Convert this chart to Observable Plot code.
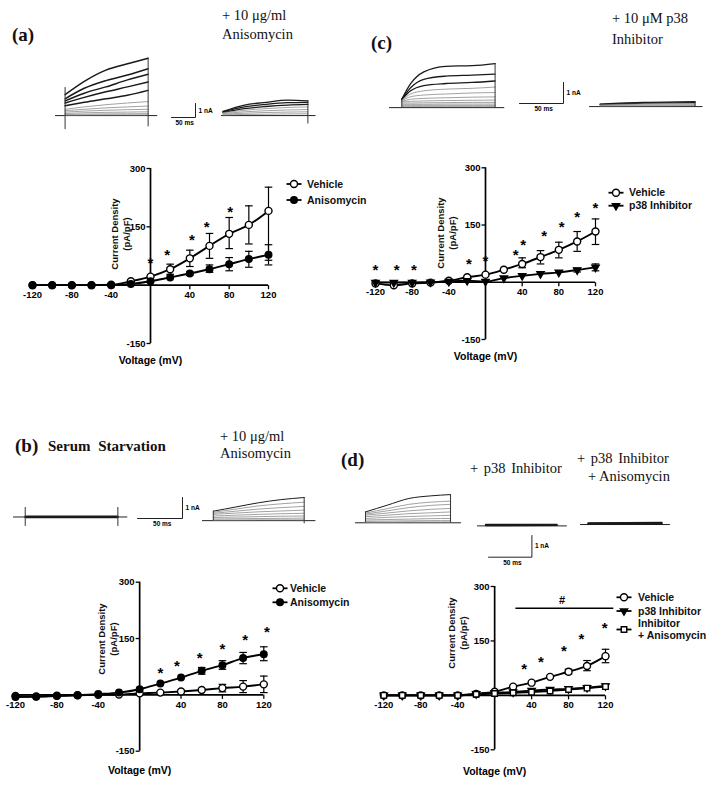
<!DOCTYPE html>
<html><head><meta charset="utf-8">
<script src="https://cdn.jsdelivr.net/npm/d3@7"></script>
<script src="https://cdn.jsdelivr.net/npm/@observablehq/plot@0.6"></script>
<style>
body{margin:0;background:#fff;}
#fig{position:relative;width:713px;height:787px;overflow:hidden;background:#fff;}
#fig > svg{position:absolute;}
</style></head><body><div id="fig"></div>
<script>
// ================= I-V DATA =================
const VOLTAGES = [-120,-100,-80,-60,-40,-20,0,20,40,60,80,100,120];
const X_TICKS = [-120,-80,-40,40,80,120];
const Y_TICKS = [-150,150,300];
const Y_DOMAIN = [-150,300];
const X_LABEL = "Voltage (mV)";
const Y_LABEL = ["Current Density","(pA/pF)"];

// (a)
const A_VEHICLE = [0,0,0,0,1,10,22,41,69,101,132,155,191];
const A_VEHICLE_ERR_V = [20,40,60,80,100,120];
const A_VEHICLE_LO = [28,48,69,94,106,64];
const A_VEHICLE_HI = [54,90,133,174,204,252];
const A_ANISO = [0,0,0,0,0,3,10,20,30,41,54,67,78];
const A_ANISO_ERR_V = [40,60,80,100,120];
const A_ANISO_LO = [26,33,37,46,52];
const A_ANISO_HI = [34,52,71,87,104];
const A_STAR_V = [0,17,42,57,81];
const A_STAR_Y = [67,88,125,160,198];
const A_NAMES = ["Vehicle","Anisomycin"];

// (c)
const C_VEHICLE = [-3,-8,-3,-1,4,13,20,33,48,66,85,107,133];
const C_VEHICLE_ERR_V = [40,60,80,100,120];
const C_VEHICLE_LO = [38,48,64,81,99];
const C_VEHICLE_HI = [64,83,105,133,166];
const C_P38 = [-1,-1,-1,0,2,4,2,11,17,22,26,32,39];
const C_P38_ERR_V = [100,120];
const C_P38_LO = [27,30];
const C_P38_HI = [37,48];
const C_STAR_V = [-120,-97,-78,-18,0,33,41,64,83,100,120];
const C_STAR_Y = [41,41,41,59,66,81,108,131,155,181,205];
const C_NAMES = ["Vehicle","p38 Inhibitor"];

// (b)
const B_VEHICLE = [-3,-4,-2,-1,0,1,4,6,9,13,18,22,28];
const B_VEHICLE_ERR_V = [80,100,120];
const B_VEHICLE_LO = [8,6,6];
const B_VEHICLE_HI = [28,38,50];
const B_ANISO = [-6,-5,-3,-1,2,6,15,30,46,64,79,98,108];
const B_ANISO_ERR_V = [60,80,100,120];
const B_ANISO_LO = [55,68,83,91];
const B_ANISO_HI = [73,91,113,128];
const B_STAR_V = [20,36,58,80,102,123];
const B_STAR_Y = [68,86,108,132,155,178];
const B_NAMES = ["Vehicle","Anisomycin"];

// (d)
const D_VEHICLE = [0,0,0,0,0,4,10,24,35,51,65,81,108];
const D_VEHICLE_ERR_V = [80,100,120];
const D_VEHICLE_LO = [59,68,90];
const D_VEHICLE_HI = [72,96,127];
const D_P38 = [0,0,0,0,0,4,7,9,13,16,18,21,26];
const D_INH_ANISO = [0,0,0,0,0,3,5,7,9,12,16,20,24];
const D_STAR_V = [32,50,75,94,119];
const D_STAR_Y = [83,102,134,165,196];
const D_HASH_X = [23,129];
const D_HASH_Y = [240];
const D_HASH_LABEL_XY = [73,262];
const D_NAMES = ["Vehicle","p38 Inhibitor","Inhibitor\n+ Anisomycin"];

// ================= CURRENT TRACES (ms, nA) =================
const SCALE_MS = 50, SCALE_NA = 1;

const A_TR_VEH_T = [0,40,85,130,173];
const A_TR_VEH = [
 [1.50,2.45,3.25,3.70,4.10],[1.20,1.95,2.50,2.90,3.35],[1.05,1.60,2.05,2.55,2.95],
 [0.90,1.30,1.70,2.05,2.40],[0.70,0.95,1.20,1.45,1.80],[0.45,0.62,0.78,0.90,1.00],
 [0.35,0.45,0.55,0.62,0.68],[0.25,0.32,0.38,0.42,0.45],[0.15,0.20,0.23,0.25,0.27],
 [0.08,0.10,0.12,0.13,0.14],[0.03,0.04,0.05,0.05,0.05]];
const A_TR_VEH_BASE = [-20,193];
const A_TR_VEH_EDGES = [[0,-1.0,2.0],[173,-0.8,4.1]];

const A_TR_ANI_T = [0,45,90,135,177];
const A_TR_ANI = [
 [0.30,0.75,0.95,1.10,1.05],[0.27,0.62,0.80,0.92,0.95],[0.23,0.50,0.65,0.75,0.80],
 [0.20,0.38,0.50,0.58,0.62],[0.15,0.27,0.35,0.40,0.43],[0.10,0.17,0.22,0.25,0.27],
 [0.05,0.08,0.10,0.12,0.13]];
const A_TR_ANI_BASE = [-3,194];
const A_TR_ANI_EDGES = [[177,-0.6,1.05]];

const C_TR_VEH_T = [0,10,25,50,80,106];
const C_TR_VEH = [
 [0.40,1.14,1.70,1.97,2.00,2.10],[0.40,0.95,1.35,1.50,1.55,1.60],[0.38,0.80,1.05,1.15,1.20,1.27],
 [0.35,0.65,0.80,0.88,0.92,0.98],[0.33,0.52,0.60,0.65,0.70,0.72],[0.30,0.40,0.44,0.47,0.50,0.51],
 [0.27,0.30,0.32,0.34,0.35,0.36],[0.22,0.22,0.23,0.24,0.25,0.25],[0.16,0.16,0.16,0.17,0.17,0.17],
 [0.11,0.11,0.11,0.11,0.11,0.11],[0.06,0.06,0.06,0.06,0.06,0.06]];
const C_TR_VEH_BASE = [-14,117];
const C_TR_VEH_EDGES = [[0,0,0.40],[106,0,2.10]];

const C_TR_INH_T = [0,50,108];
const C_TR_INH = [[0.12,0.20,0.24],[0.10,0.16,0.19],[0.08,0.12,0.14],[0.05,0.08,0.09],[0.03,0.04,0.05]];
const C_TR_INH_BASE = [-12,117];
const C_TR_INH_EDGES = [[108,0,0.24]];

const B_TR_VEH_T = [0,103];
const B_TR_VEH = [[0.03,0.03],[-0.02,-0.02]];
const B_TR_VEH_BASE = [-13,114];
const B_TR_VEH_EDGES = [[0,-0.45,0.45],[103,-0.45,0.45]];

const B_TR_ANI_T = [0,25,50,75,101];
const B_TR_ANI = [
 [0.45,0.65,0.85,1.00,1.10],[0.40,0.55,0.70,0.80,0.88],[0.35,0.45,0.55,0.62,0.68],
 [0.30,0.36,0.42,0.46,0.50],[0.22,0.26,0.30,0.33,0.35],[0.15,0.17,0.19,0.21,0.22],
 [0.08,0.09,0.10,0.11,0.12],[0.03,0.03,0.04,0.04,0.04]];
const B_TR_ANI_BASE = [-12,114];
const B_TR_ANI_EDGES = [[0,0,0.45],[101,-0.15,1.10]];

const D_TR_VEH_T = [0,25,50,75,98];
const D_TR_VEH = [
 [0.50,0.81,1.12,1.24,1.30],[0.45,0.65,0.85,0.95,1.00],[0.40,0.55,0.70,0.80,0.85],
 [0.35,0.45,0.55,0.62,0.66],[0.28,0.35,0.42,0.46,0.50],[0.20,0.25,0.29,0.32,0.34],
 [0.13,0.15,0.17,0.19,0.20],[0.07,0.08,0.09,0.10,0.10],[0.03,0.03,0.04,0.04,0.04]];
const D_TR_VEH_BASE = [-11.5,110.6];
const D_TR_VEH_EDGES = [[0,0,0.50],[98,0,1.30]];

const D_TR_INH_T = [0,82];
const D_TR_INH = [[0.06,0.06],[0.04,0.05],[0.02,0.03]];
const D_TR_INH_BASE = [-9.4,94];

const D_TR_BOTH_T = [0,85];
const D_TR_BOTH = [[0.07,0.09],[0.05,0.06],[0.02,0.03]];
const D_TR_BOTH_BASE = [-8.8,94.8];

// ================= STYLE / LAYOUT =================
const SERIF = "'Liberation Serif','Times New Roman',serif";
const SANS_N = "'Liberation Sans Narrow','Arial Narrow','Liberation Sans',Arial,sans-serif";
const SANS = "'Liberation Sans',Arial,sans-serif";
const fig = document.getElementById("fig");

const triangleDown = {draw(c, size){
  const s = Math.sqrt(size*4/Math.sqrt(3)), h = s*Math.sqrt(3)/2;
  c.moveTo(0, 2*h/3); c.lineTo(-s/2, -h/3); c.lineTo(s/2, -h/3); c.closePath();
}};
const tickDown = {draw(c){c.moveTo(0,0); c.lineTo(0,4);}};
const tickLeft = {draw(c){c.moveTo(0,0); c.lineTo(-4,0);}};
const capSym = {draw(c){c.moveTo(-3.8,0); c.lineTo(3.8,0);}};

const MARKERS = {
  open: {symbol:"circle", fill:"white", r: 3.5},
  filled: {symbol:"circle", fill:"black", r: 3.3},
  tri: {symbol: triangleDown, fill:"black", r: 2.7},
  square: {symbol:"square", fill:"white", r: 3.1}
};

function place(svg, left, top){
  svg.style.left = left + "px"; svg.style.top = top + "px";
  fig.appendChild(svg);
}

function ivPlot(p){
  const marks = [];
  marks.push(Plot.ruleY([0], {x1: d3.min(X_TICKS), x2: d3.max(X_TICKS), strokeWidth: 1.7}));
  marks.push(Plot.ruleX([0], {y1: d3.min(Y_TICKS), y2: d3.max(Y_TICKS), strokeWidth: 1.7}));
  marks.push(Plot.dot(X_TICKS, {x: d=>d, y: 0, symbol: tickDown, stroke:"black", fill:"none", strokeWidth: 1.3}));
  marks.push(Plot.dot(Y_TICKS, {x: 0, y: d=>d, symbol: tickLeft, stroke:"black", fill:"none", strokeWidth: 1.3}));
  marks.push(Plot.text(X_TICKS, {x: d=>d, y: 0, text: d=>String(d), dy: 10, fontSize: 9.5, fontWeight:"bold", fontFamily: SANS_N}));
  marks.push(Plot.text(Y_TICKS, {x: 0, y: d=>d, text: d=>String(d), dx: -5, textAnchor:"end", fontSize: 9.5, fontWeight:"bold", fontFamily: SANS_N}));
  for (const s of p.series){
    const rows = VOLTAGES.map((v,i)=>({v, y: s.values[i]}));
    if (s.errV){
      const er = s.errV.map((v,i)=>({v, lo: s.lo[i], hi: s.hi[i]}));
      marks.push(Plot.ruleX(er, {x:"v", y1:"lo", y2:"hi", strokeWidth: 1.2}));
      marks.push(Plot.dot(er, {x:"v", y:"lo", symbol: capSym, stroke:"black", fill:"none", strokeWidth:1.2}));
      marks.push(Plot.dot(er, {x:"v", y:"hi", symbol: capSym, stroke:"black", fill:"none", strokeWidth:1.2}));
    }
    marks.push(Plot.line(rows, {x:"v", y:"y", curve:"monotone-x", stroke:"black", strokeWidth: 1.9}));
  }
  for (const s of p.series){
    const rows = VOLTAGES.map((v,i)=>({v, y: s.values[i]}));
    const m = MARKERS[s.marker];
    marks.push(Plot.dot(rows, {x:"v", y:"y", symbol: m.symbol, fill: m.fill, stroke:"black", strokeWidth: 1.4, r: m.r}));
  }
  const stars = p.starV.map((v,i)=>({v, y: p.starY[i]}));
  marks.push(Plot.text(stars, {x:"v", y:"y", text: ()=>"*", fontSize: 15, fontWeight:"bold", fontFamily: SANS, dy: 4}));
  if (p.hash){
    marks.push(Plot.ruleY(D_HASH_Y, {x1: D_HASH_X[0], x2: D_HASH_X[1], strokeWidth: 1.6}));
    marks.push(Plot.text(["#"], {x: D_HASH_LABEL_XY[0], y: D_HASH_LABEL_XY[1], fontSize: 11, fontWeight:"bold", fontFamily: SANS}));
  }
  marks.push(Plot.text([X_LABEL], {frameAnchor:"middle", dy: p.voltDy, fontSize: 10.5, fontWeight:"bold", fontFamily: SANS_N}));
  const svg = Plot.plot({
    width: p.width, height: p.height,
    marginLeft: p.ml, marginRight: p.mr, marginTop: p.mt, marginBottom: p.mb,
    x: {domain: d3.extent(VOLTAGES), axis: null},
    y: {domain: Y_DOMAIN, axis: null},
    style: {background:"transparent", overflow:"visible"},
    marks
  });
  place(svg, p.left, p.top);
}

function tracePlot(g){
  const pad = 3;
  const [b0, b1] = g.base;
  const all = g.traces.flat().concat((g.edges||[]).flatMap(e=>[e[1],e[2]]));
  const yMin = Math.min(0, d3.min(all)) - 0.05, yMax = Math.max(0, d3.max(all)) + 0.05;
  const width = (b1-b0)*g.msPx + 2*pad, height = (yMax-yMin)*g.nAPx + 2*pad;
  const rows = g.traces.flatMap((tr,k)=>tr.map((I,i)=>({k, t: g.T[i], I})));
  const marks = [
    Plot.ruleY([0], {x1: b0, x2: b1, stroke:"#222", strokeWidth: 1}),
    Plot.line(rows, {x:"t", y:"I", z:"k", curve:"monotone-x",
      stroke: d=> d.k < g.dark ? "#1a1a1a" : "#8a8a8a",
      strokeWidth: d=> d.k < g.dark ? (g.thick||1.3) : 0.8})
  ];
  if (g.edges) marks.push(Plot.ruleX(g.edges, {x: d=>d[0], y1: d=>d[1], y2: d=>d[2], stroke:"#333", strokeWidth: 1}));
  const svg = Plot.plot({
    width, height, marginLeft: pad, marginRight: pad, marginTop: pad, marginBottom: pad,
    x: {domain: [b0,b1], axis: null}, y: {domain: [yMin,yMax], axis: null},
    style: {background:"transparent", overflow:"visible"}, marks
  });
  place(svg, g.x0 + b0*g.msPx - pad, g.y0 - yMax*g.nAPx - pad);
}

function scaleBar(s){
  const pad = 2;
  const path = [{t:0,I:0},{t:SCALE_MS,I:0},{t:SCALE_MS,I:SCALE_NA}];
  const svg = Plot.plot({
    width: SCALE_MS*s.msPx + pad + 24, height: SCALE_NA*s.nAPx + pad + 12,
    marginLeft: pad, marginRight: 24, marginTop: pad, marginBottom: 12,
    x: {domain: [0,SCALE_MS], axis: null}, y: {domain: [0,SCALE_NA], axis: null},
    style: {background:"transparent", overflow:"visible"},
    marks: [
      Plot.line(path, {x:"t", y:"I", stroke:"#222", strokeWidth: 1}),
      Plot.text([SCALE_MS + " ms"], {x: SCALE_MS*0.55, y: 0, dy: 5.5, fontSize: 6.5, fontWeight:"bold", fontFamily: SANS}),
      Plot.text([SCALE_NA + " nA"], {x: SCALE_MS, y: SCALE_NA*0.5, dx: 3, textAnchor:"start", fontSize: 6.5, fontWeight:"bold", fontFamily: SANS})
    ]
  });
  place(svg, s.x - SCALE_MS*s.msPx - pad, s.y - SCALE_NA*s.nAPx - pad);
}

// ---------- traces ----------
const SC_A = {msPx: 24/50, nAPx: 14};
const SC_C = {msPx: 44/50, nAPx: 21};
const SC_B = {msPx: 45/50, nAPx: 21};
const SC_D = {msPx: 43.4/50, nAPx: 21.7};

tracePlot({...SC_A, T: A_TR_VEH_T, traces: A_TR_VEH, base: A_TR_VEH_BASE, edges: A_TR_VEH_EDGES, x0: 65, y0: 115, dark: 5, thick: 1.5});
tracePlot({...SC_A, T: A_TR_ANI_T, traces: A_TR_ANI, base: A_TR_ANI_BASE, edges: A_TR_ANI_EDGES, x0: 222, y0: 115, dark: 3});
scaleBar({...SC_A, x: 195, y: 117});

tracePlot({...SC_C, T: C_TR_VEH_T, traces: C_TR_VEH, base: C_TR_VEH_BASE, edges: C_TR_VEH_EDGES, x0: 401, y0: 107, dark: 3});
tracePlot({...SC_C, T: C_TR_INH_T, traces: C_TR_INH, base: C_TR_INH_BASE, edges: C_TR_INH_EDGES, x0: 600, y0: 106, dark: 2});
scaleBar({...SC_C, x: 562.7, y: 103.3});

tracePlot({...SC_B, T: B_TR_VEH_T, traces: B_TR_VEH, base: B_TR_VEH_BASE, edges: B_TR_VEH_EDGES, x0: 24.3, y0: 516.7, dark: 2, thick: 1.6});
tracePlot({...SC_B, T: B_TR_ANI_T, traces: B_TR_ANI, base: B_TR_ANI_BASE, edges: B_TR_ANI_EDGES, x0: 212.7, y0: 520, dark: 1, thick: 1});
scaleBar({...SC_B, x: 181.7, y: 517.7});

tracePlot({...SC_D, T: D_TR_VEH_T, traces: D_TR_VEH, base: D_TR_VEH_BASE, edges: D_TR_VEH_EDGES, x0: 365, y0: 522.7, dark: 1, thick: 1});
tracePlot({...SC_D, T: D_TR_INH_T, traces: D_TR_INH, base: D_TR_INH_BASE, x0: 485, y0: 525.7, dark: 3, thick: 1.6});
tracePlot({...SC_D, T: D_TR_BOTH_T, traces: D_TR_BOTH, base: D_TR_BOTH_BASE, x0: 588, y0: 524.3, dark: 3, thick: 1.6});
scaleBar({...SC_D, x: 531.7, y: 556.7});

// ---------- I-V plots ----------
ivPlot({left: 0, top: 150, width: 360, height: 220, ml: 32, mr: 92, mt: 18, mb: 27, voltDy: 104.5,
  series: [
    {values: A_VEHICLE, errV: A_VEHICLE_ERR_V, lo: A_VEHICLE_LO, hi: A_VEHICLE_HI, marker: "open"},
    {values: A_ANISO, errV: A_ANISO_ERR_V, lo: A_ANISO_LO, hi: A_ANISO_HI, marker: "filled"}],
  starV: A_STAR_V, starY: A_STAR_Y});
ivPlot({left: 360, top: 150, width: 353, height: 220, ml: 15, mr: 118, mt: 17.3, mb: 31, voltDy: 102.8,
  series: [
    {values: C_VEHICLE, errV: C_VEHICLE_ERR_V, lo: C_VEHICLE_LO, hi: C_VEHICLE_HI, marker: "open"},
    {values: C_P38, errV: C_P38_ERR_V, lo: C_P38_LO, hi: C_P38_HI, marker: "tri"}],
  starV: C_STAR_V, starY: C_STAR_Y});
ivPlot({left: 0, top: 540, width: 360, height: 247, ml: 15, mr: 96.7, mt: 41.7, mb: 36.3, voltDy: 103.8,
  series: [
    {values: B_VEHICLE, errV: B_VEHICLE_ERR_V, lo: B_VEHICLE_LO, hi: B_VEHICLE_HI, marker: "open"},
    {values: B_ANISO, errV: B_ANISO_ERR_V, lo: B_ANISO_LO, hi: B_ANISO_HI, marker: "filled"}],
  starV: B_STAR_V, starY: B_STAR_Y});
ivPlot({left: 360, top: 540, width: 353, height: 247, ml: 23.3, mr: 108, mt: 46, mb: 37.7, voltDy: 103.3,
  series: [
    {values: D_VEHICLE, errV: D_VEHICLE_ERR_V, lo: D_VEHICLE_LO, hi: D_VEHICLE_HI, marker: "open"},
    {values: D_P38, marker: "tri"},
    {values: D_INH_ANISO, marker: "square"}],
  starV: D_STAR_V, starY: D_STAR_Y, hash: true});

// ---------- overlay text and legends ----------
const ov = d3.create("svg").attr("width", 713).attr("height", 787).style("left","0px").style("top","0px");
function txt(s, x, y, size, weight, family, extra){
  const t = ov.append("text").attr("x", x).attr("y", y).attr("font-size", size).attr("font-weight", weight||"normal")
    .attr("font-family", family).attr("fill", "#111").text(s);
  if (extra) for (const k in extra) t.style(k, extra[k]);
  return t;
}
txt("(a)", 12, 41, 19, "bold", SERIF);
txt("+ 10 μg/ml", 222, 20, 14.5, "normal", SERIF);
txt("Anisomycin", 222, 39, 14.5, "normal", SERIF);
txt("(c)", 371, 49, 19, "bold", SERIF);
txt("+ 10 μM p38", 612, 23, 14.5, "normal", SERIF);
txt("Inhibitor", 612, 44, 14.5, "normal", SERIF);
txt("(b)", 15, 452, 19, "bold", SERIF);
txt("Serum Starvation", 48, 451, 15, "bold", SERIF, {"word-spacing":"4px"});
txt("+ 10 μg/ml", 220, 441, 14.5, "normal", SERIF);
txt("Anisomycin", 220, 458, 14.5, "normal", SERIF);
txt("(d)", 341, 466, 19, "bold", SERIF);
txt("+ p38 Inhibitor", 470, 473, 14.5, "normal", SERIF, {"word-spacing":"2px"});
txt("+ p38 Inhibitor", 577, 463, 14.5, "normal", SERIF, {"word-spacing":"2px"});
txt("+ Anisomycin", 588, 481, 14.5, "normal", SERIF);

// rotated y-axis titles (centre x, centre y of the two-line block)
function yTitle(cx, cy){
  const g = ov.append("g").attr("transform", `translate(${cx},${cy}) rotate(-90)`);
  Y_LABEL.forEach((ln, j)=>{
    g.append("text").attr("x", 0).attr("y", (j - 0.5)*12 + 3.3).attr("text-anchor","middle")
      .attr("font-size", 9.5).attr("font-weight","bold").attr("font-family", SANS).attr("fill","#111").text(ln);
  });
}
yTitle(121, 234);
yTitle(447, 233);
yTitle(107.5, 639);
yTitle(457.5, 633);

function legend(names, markers, symX, textX, rowsY, markY){
  names.forEach((name, i)=>{
    const my = markY ? markY[i] : rowsY[i];
    ov.append("line").attr("x1", symX-7.5).attr("x2", symX+7.5).attr("y1", my).attr("y2", my).attr("stroke","black").attr("stroke-width",1.8);
    const m = MARKERS[markers[i]];
    const type = m.symbol === "circle" ? d3.symbolCircle : m.symbol === "square" ? d3.symbolSquare : m.symbol;
    ov.append("path").attr("d", d3.symbol(type, Math.PI*m.r*m.r)()).attr("transform", `translate(${symX},${my})`)
      .attr("fill", m.fill).attr("stroke","black").attr("stroke-width",1.4);
    const lines = name.split("\n");
    lines.forEach((ln, j)=>{
      const y = (markY ? my - (lines.length-1)*6.3 + j*12.6 : my) + 3.6;
      txt(ln, textX, y, 10.5, "bold", SANS_N);
    });
  });
}
legend(A_NAMES, ["open","filled"], 294, 307, [184, 200]);
legend(C_NAMES, ["open","tri"], 616, 629, [192.7, 205.7]);
legend(B_NAMES, ["open","filled"], 280, 290, [588.3, 602.3]);
legend(D_NAMES, ["open","tri","square"], 624, 638, null, [597.3, 611, 629.5]);
fig.appendChild(ov.node());
</script></body></html>
